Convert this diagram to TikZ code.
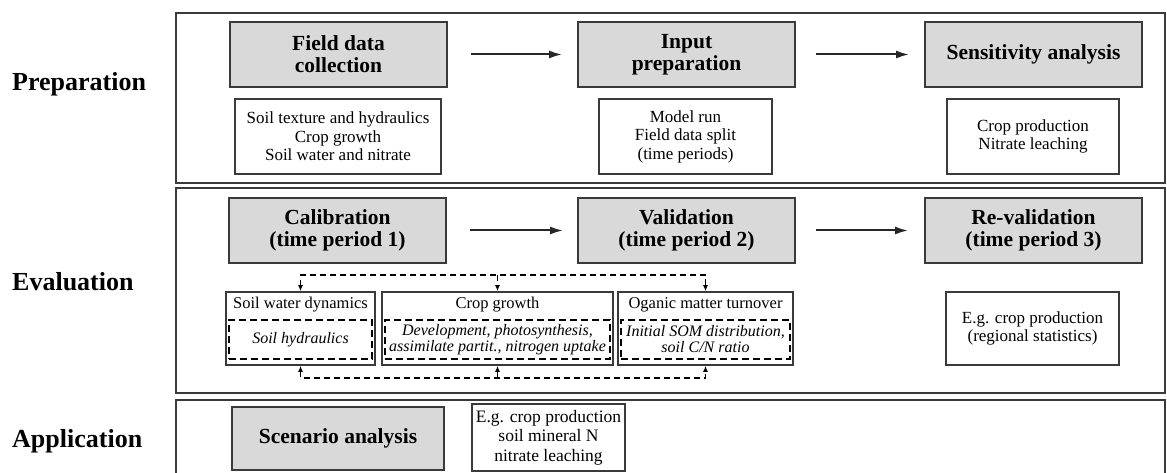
\documentclass[tikz,border=0pt]{standalone}
\usepackage{fontspec}
\setmainfont{Liberation Serif}
\usetikzlibrary{arrows.meta}

\definecolor{boxgray}{HTML}{D9D9D9}
\definecolor{linegray}{HTML}{3A3A3A}

\tikzset{
  panel/.style={draw=linegray, line width=2.2pt},
  stage/.style={draw=linegray, line width=1.8pt, fill=boxgray, inner sep=0pt,
    minimum width=217pt, minimum height=65pt, align=center,
    font=\fontsize{21.5}{22}\selectfont\bfseries},
  info/.style={draw=linegray, line width=1.6pt, fill=white, inner sep=0pt,
    minimum height=75pt, align=center, font=\fontsize{17}{18.5}\selectfont},
  part/.style={draw=linegray, line width=1.6pt, inner sep=0pt, minimum height=73pt},
  parttitle/.style={inner sep=0pt, font=\fontsize{16.5}{18}\selectfont},
  partin/.style={draw=black, dash pattern=on 7pt off 4pt, line width=1.6pt, inner sep=0pt,
    minimum height=39pt, align=center, font=\fontsize{16}{16}\selectfont\itshape},
  phase/.style={anchor=west, inner sep=0pt, font=\fontsize{26}{28}\selectfont\bfseries},
  flow/.style={-{Latex[length=13pt, width=8pt]}, line width=2pt, draw=black!85},
  link/.style={dash pattern=on 6pt off 4pt, line width=1.3pt,
    >={Latex[length=6pt, width=5pt]}}
}

\begin{document}
\begin{tikzpicture}[x=1pt, y=-1pt]
        \useasboundingbox (0,0) rectangle (1167,473);

        % Panels
        \draw [panel] (176,13) rectangle (1165,183);
        \draw [panel] (176,188) rectangle (1165,393);
        \draw [panel] (176,500) -- (176,400) -- (1165,400) -- (1165,500);

        % Phase labels
        \node [phase] (prep) at (12,84) {Preparation};
        \node [phase] (eval) at (12,282) {Evaluation};
        \node [phase] (appl) at (12,441) {Application};

        % Preparation
        \node [stage] (field) at (338.5,54.5) {Field data\\collection};
        \node [stage] (input) at (686.5,54.5) {Input\\preparation};
        \node [stage] (sens) at (1033.5,54.5) {Sensitivity analysis};
        \node [info, minimum width=206pt] (fieldtxt) at (338,136.5)
            {Soil texture and hydraulics\\Crop growth\\Soil water and nitrate};
        \node [info, minimum width=173pt] (inputtxt) at (685.5,136.5)
            {Model run\\Field data split\\(time periods)};
        \node [info, minimum width=172pt] (senstxt) at (1033,136.5)
            {Crop production\\Nitrate leaching};

        \draw [flow, shorten <=23pt, shorten >=15pt] (field) -- (input);
        \draw [flow, shorten <=20pt, shorten >=15pt] (input) -- (sens);

        % Evaluation
        \node [stage] (calib) at (337.5,230.5) {Calibration\\(time period 1)};
        \node [stage] (valid) at (686.5,230.5) {Validation\\(time period 2)};
        \node [stage] (reval) at (1033.5,230.5) {Re-validation\\(time period 3)};
        \node [info, minimum width=173pt, minimum height=73pt] (revaltxt) at (1032.5,328.5)
            {E.g. crop production\\(regional statistics)};

        \draw [flow, shorten <=23pt, shorten >=14pt] (calib) -- (valid);
        \draw [flow, shorten <=20pt, shorten >=16pt] (valid) -- (reval);

        % Model parts
        \node [part, minimum width=149pt] (swd) at (300.5,328.5) {};
        \node [part, minimum width=231pt] (cg) at (497.5,328.5) {};
        \node [part, minimum width=175pt] (omt) at (705.5,328.5) {};
        \node [parttitle] (swdtitle) at (300.5,305) {Soil water dynamics};
        \node [parttitle] (cgtitle) at (497.5,305) {Crop growth};
        \node [parttitle] (omttitle) at (705.5,305) {Oganic matter turnover};
        \node [partin, minimum width=143pt] (swdin) at (300.5,339.5) {Soil hydraulics};
        \node [partin, minimum width=225pt] (cgin) at (497.5,339.5)
            {Development, photosynthesis,\\assimilate partit., nitrogen uptake};
        \node [partin, minimum width=169pt] (omtin) at (705.5,339.5)
            {Initial SOM distribution,\\soil C/N ratio};

        \coordinate (topbus) at (0,275);
        \coordinate (botbus) at (0,378);
        \draw [link, <->] (swd.north) -- (swd.north |- topbus) -| (omt.north);
        \draw [link, ->] (cg.north |- topbus) -- (cg.north);
        \draw [link, <->] (swd.south) -- (swd.south |- botbus) -| (omt.south);
        \draw [link, ->] (cg.south |- botbus) -- (cg.south);

        % Application
        \node [stage, minimum width=212pt, minimum height=63pt] (scen) at (338,438.5) {Scenario analysis};
        \node [info, minimum width=153pt, minimum height=67pt,
            font=\fontsize{17.5}{19.5}\selectfont] (scentxt) at (548.5,437.5)
            {E.g. crop production\\soil mineral N\\nitrate leaching};
    \end{tikzpicture}
\end{document}
